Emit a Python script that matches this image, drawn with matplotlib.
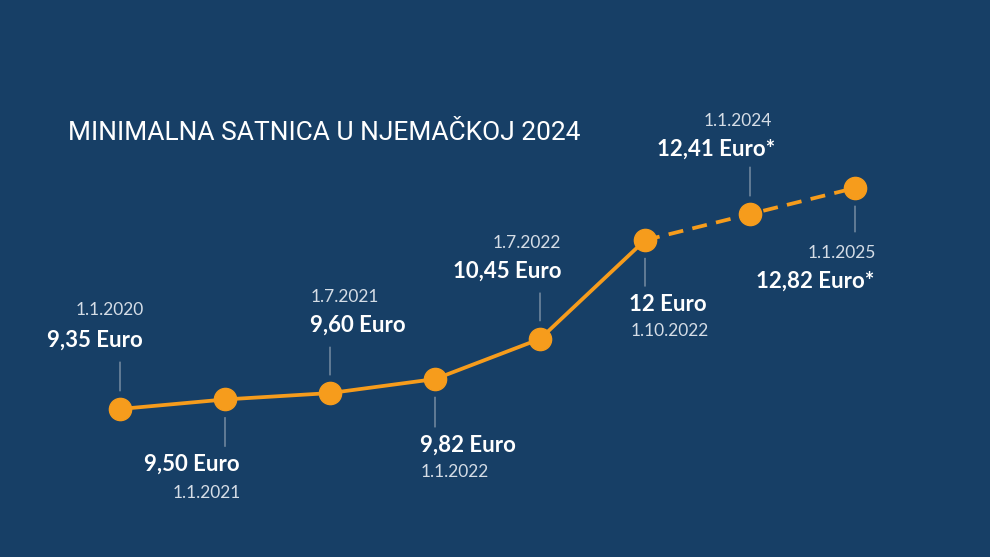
import matplotlib.pyplot as plt

plt.rcParams["font.family"] = ["Lato", "DejaVu Sans"]

# Daten
values = [9.35, 9.50, 9.60, 9.82, 10.45, 12.00, 12.41, 12.82]
value_labels = ["9,35 Euro", "9,50 Euro", "9,60 Euro", "9,82 Euro", "10,45 Euro",
                "12 Euro", "12,41 Euro*", "12,82 Euro*"]
date_labels = ["1.1.2020", "1.1.2021", "1.7.2021", "1.1.2022", "1.7.2022",
               "1.10.2022", "1.1.2024", "1.1.2025"]
n_solid = 6  # bis 1.10.2022 durchgezogen, danach gestrichelt (Prognose)

# Label-Anordnung in Pixel relativ zum Punkt: (Linienende dy, Wert dx/dy, Datum dx/dy)
layout = [
    (47, (-25, 69), (-10, 99)),
    (-47, (-33, -65), (-18, -94)),
    (46, (28, 68), (15, 96)),
    (-48, (33, -66), (20, -93)),
    (46, (-33, 68), (-13, 96)),
    (-46, (23, -64), (25, -91)),
    (47, (-34, 65), (-12, 93)),
    (-44, (-40, -93), (-13, -65)),
]

BG = "#173f66"
ORANGE = "#f69c1c"

fig = plt.figure(figsize=(9.9, 5.57), dpi=100, facecolor=BG)
ax = fig.add_axes([0, 0, 1, 1])
ax.set_facecolor(BG)
xs = list(range(len(values)))
ax.set_xlim(-120 / 105, 870 / 105)
ax.set_ylim(9.35 - 148 / 63.7, 9.35 + 409 / 63.7)
ax.axis("off")

ax.plot(xs[:n_solid], values[:n_solid], color=ORANGE, lw=2.7, zorder=2)
ax.plot(xs[n_solid - 1:], values[n_solid - 1:], color=ORANGE, lw=2.7, ls=(0, (4, 2.5)), zorder=2)
ax.plot(xs, values, "o", color=ORANGE, ms=16, zorder=3)

for x, y, vl, dl, (ly, voff, doff) in zip(xs, values, value_labels, date_labels, layout):
    ax.annotate("", xy=(x, y), xycoords="data", xytext=(0, ly), textcoords="offset pixels",
                arrowprops=dict(arrowstyle="-", color="#9aa9b8", lw=0.8, shrinkA=0, shrinkB=13))
    ax.annotate(vl, xy=(x, y), xytext=voff, textcoords="offset pixels", ha="center", va="center",
                color="white", fontsize=16, fontweight="bold")
    ax.annotate(dl, xy=(x, y), xytext=doff, textcoords="offset pixels", ha="center", va="center",
                color="#d5dde6", fontsize=12.5, fontweight="normal")

fig.text(68 / 990, 1 - 133 / 557, "MINIMALNA SATNICA U NJEMAČKOJ 2024", color="white",
         fontsize=19, family="Roboto", fontweight="normal", va="center", ha="left")

fig.savefig("out.png", dpi=100, facecolor=BG)
